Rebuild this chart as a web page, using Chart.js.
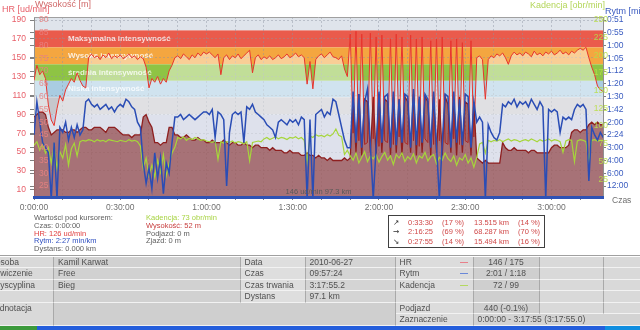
<!DOCTYPE html>
<html lang="pl">
<head>
<meta charset="utf-8">
<title>Trening 2010-06-27</title>
<script src="https://cdn.jsdelivr.net/npm/chart.js@4.4.1/dist/chart.umd.min.js"></script>
<style>
  body { margin: 0; background: #fff; font-family: "Liberation Sans", Arial, sans-serif; }
  #ekran { position: relative; width: 640px; height: 330px; overflow: hidden; }
  #wykres { position: absolute; left: 0; top: 0; }
  .t { position: absolute; white-space: nowrap; line-height: 1; }
  .info { position: absolute; font-size: 7.5px; line-height: 7.8px; color: #606060; white-space: nowrap; }
  #przedzialy { position: absolute; left: 388px; top: 215px; width: 155px; height: 31px;
    border: 1px solid #404040; background: #fff; font-size: 7.5px; color: #d04848; }
  #przedzialy div { position: absolute; white-space: nowrap; line-height: 9px; }
  #tabela { position: absolute; left: 0; top: 255px; width: 640px; height: 71px; border-top: 1px solid #a0a0a0; }
  .k { position: absolute; box-sizing: border-box; border-right: 1px solid #a9a9a9; border-bottom: 1px solid #f2f2f2;
    font-size: 8.5px; color: #505050; line-height: 10px; padding-left: 4px; white-space: nowrap; overflow: hidden; }
  .znak { position: absolute; top: 5px; width: 8px; height: 1px; }
  #pasek { position: absolute; left: 0; top: 326px; width: 640px; height: 4px; background: #245edc; }
</style>
</head>
<body>
<div id="ekran">
  <canvas id="wykres" width="640" height="215"></canvas>

  <span class="t" style="left:2px;top:5px;font-size:9px;color:#e8606a">HR [ud/min]</span>
  <span class="t" style="left:35px;top:0px;font-size:9px;color:#d06a6a">Wysokość [m]</span>
  <span class="t" style="left:530px;top:1px;font-size:9px;color:#b4d65a">Kadencja [obr/min]</span>
  <span class="t" style="left:605px;top:7px;font-size:9px;color:#3a5ac0">Rytm [min/km]</span>
  <span class="t" style="left:612px;top:196px;font-size:8.5px;color:#707070">Czas</span>

  <div class="info" style="left:34px;top:214px">
    Wartości pod kursorem:<br>
    Czas: 0:00:00<br>
    <span style="color:#e04040">HR: 126 ud/min</span><br>
    <span style="color:#3050c0">Rytm: 2:27 min/km</span><br>
    Dystans: 0.000 km
  </div>
  <div class="info" style="left:146px;top:214px">
    <span style="color:#a8d444">Kadencja: 73 obr/min</span><br>
    <span style="color:#c84040">Wysokość: 52 m</span><br>
    Podjazd: 0 m<br>
    Zjazd: 0 m
  </div>

  <div id="przedzialy"></div>
  <div id="tabela"></div>
  <div id="pasek">
    <div style="position:absolute;left:0;top:0;width:37px;height:4px;background:#3c9a3c"></div>
    <div style="position:absolute;left:605px;top:0;width:35px;height:4px;background:#0f8ee0"></div>
  </div>
</div>

<script>
// próbki co minutę, od 0:00 do 3:18
const tetno = [
  126, 142, 132, 136, 128, 100, 84, 78, 96, 110,
  104, 116, 122, 128, 124, 134, 126, 120, 118, 150,
  154, 150, 152, 148, 153, 150, 155, 149, 152, 150,
  153, 149, 151, 154, 150, 152, 148, 151, 149, 140,
  118, 128, 124, 130, 122, 128, 124, 136, 142, 150,
  152, 149, 154, 151, 148, 153, 150, 155, 152, 156,
  154, 156, 153, 150, 154, 132, 150, 153, 148, 152,
  150, 154, 149, 152, 155, 158, 134, 150, 153, 148,
  151, 149, 152, 148, 150, 153, 149, 151, 154, 150,
  152, 155, 151, 153, 150, 122, 146, 117, 148, 152,
  154, 150, 153, 156, 151, 150, 148, 152, 138, 130,
  175, 70, 178, 62, 175, 58, 60, 176, 64, 172,
  56, 174, 62, 60, 170, 58, 175, 66, 172, 60,
  58, 174, 62, 170, 56, 172, 64, 60, 168, 58,
  170, 62, 172, 60, 58, 168, 64, 170, 58, 166,
  62, 60, 168, 66, 150, 152, 148, 106, 148, 152,
  150, 154, 152, 155, 150, 143, 152, 156, 153, 155,
  152, 156, 154, 151, 157, 153, 155, 152, 156, 154,
  157, 153, 155, 158, 154, 156, 153, 157, 155, 158,
  160, 158, 161, 150, 140, 132, 120, 116, 114
];

const wysokosc = [
  52, 53, 54, 54, 53, 48, 45, 46, 47, 47,
  47, 46, 46, 47, 47, 46, 47, 48, 48, 47,
  47, 48, 48, 48, 47, 46, 48, 48, 48, 47,
  46, 45, 45, 45, 44, 45, 45, 45, 52, 53,
  50, 48, 42, 42, 41, 42, 42, 48, 48, 45,
  45, 44, 44, 45, 44, 43, 43, 44, 43, 43,
  42, 42, 43, 42, 42, 42, 43, 42, 41, 42,
  42, 41, 41, 42, 41, 41, 40, 41, 41, 40,
  40, 40, 39, 40, 39, 39, 39, 38, 38, 39,
  38, 38, 38, 37, 37, 38, 37, 37, 36, 37,
  36, 36, 35, 36, 35, 35, 35, 35, 36, 35,
  36, 60, 38, 61, 37, 59, 58, 38, 60, 37,
  61, 38, 59, 58, 37, 60, 38, 59, 37, 60,
  58, 38, 61, 37, 59, 38, 60, 58, 37, 60,
  38, 59, 37, 60, 57, 38, 59, 37, 60, 38,
  58, 57, 37, 58, 36, 35, 34, 35, 34, 34,
  34, 34, 34, 42, 40, 39, 39, 40, 39, 39,
  39, 39, 38, 39, 39, 38, 38, 38, 38, 38,
  40, 41, 41, 40, 40, 40, 41, 46, 47, 47,
  46, 47, 47, 49, 50, 49, 50, 49, 49
];

const kadencja = [
  73, 78, 66, 75, 62, 70, 48, 72, 40, 64,
  55, 74, 45, 68, 76, 58, 78, 80, 79, 81,
  80, 78, 81, 79, 80, 78, 81, 80, 79, 78,
  80, 79, 78, 81, 79, 80, 78, 72, 40, 55,
  30, 45, 28, 52, 35, 60, 30, 48, 62, 70,
  84, 82, 85, 80, 83, 81, 84, 82, 80, 81,
  79, 78, 77, 79, 53, 78, 76, 78, 77, 79,
  76, 78, 77, 75, 78, 51, 77, 78, 79, 78,
  82, 84, 81, 83, 85, 82, 84, 83, 81, 84,
  83, 85, 82, 84, 80, 49, 86, 84, 88, 86,
  87, 85, 88, 86, 89, 96, 87, 85, 60, 66,
  58, 52, 62, 48, 56, 64, 50, 58, 54, 60,
  49, 57, 63, 52, 58, 46, 60, 55, 62, 50,
  57, 53, 61, 48, 58, 55, 63, 51, 57, 60,
  47, 56, 52, 62, 54, 50, 58, 45, 55, 52,
  60, 48, 55, 42, 56, 75, 77, 62, 80, 78,
  80, 79, 81, 78, 80, 82, 79, 81, 80, 78,
  80, 81, 79, 82, 80, 78, 81, 79, 80, 82,
  79, 81, 80, 78, 63, 79, 81, 80, 50, 79,
  81, 80, 78, 49, 80, 81, 79, 80, 80
];

// prędkość w km/h, oś opisana jako rytm min/km
const predkosc = [
  25, 38, 30, 22, 20, 18, 0, 22, 0, 28,
  26, 30, 23, 28, 24, 29, 25, 27, 38, 39,
  37, 36, 37, 35, 36, 37, 35, 36, 34, 36,
  37, 36, 39, 38, 36, 35, 30, 28, 14, 6,
  12, 4, 18, 8, 16, 2, 14, 10, 22, 32,
  32, 33, 31, 32, 33, 32, 31, 32, 33, 34,
  34, 33, 35, 24, 34, 33, 31, 5, 26, 33,
  34, 33, 34, 22, 36, 35, 37, 34, 33, 32,
  31, 29, 28, 27, 24, 30, 31, 30, 29, 31,
  30, 31, 29, 32, 31, 0, 31, 0, 33, 34,
  35, 32, 34, 33, 39, 38, 33, 28, 23, 20,
  20, 42, 22, 41, 20, 38, 43, 21, 0, 20,
  42, 22, 40, 41, 20, 42, 21, 39, 22, 41,
  40, 20, 43, 21, 40, 22, 41, 39, 20, 42,
  21, 0, 22, 41, 40, 20, 42, 22, 39, 21,
  41, 40, 20, 38, 30, 32, 30, 0, 29, 26,
  24, 23, 26, 37, 36, 38, 37, 39, 36, 38,
  37, 38, 36, 39, 37, 35, 38, 36, 0, 35,
  34, 35, 34, 26, 32, 31, 32, 31, 35, 37,
  36, 37, 35, 7, 28, 25, 23, 26, 24
];

const czasTrwania = 197.92; // 3:17:55
const podzialkaCzasu = [0, 10, 20, 30, 40, 50, 60, 70, 80, 90, 100, 110, 120, 130, 140, 150, 160, 170, 180, 190];
const podzialkaHR = [10, 30, 50, 70, 90, 110, 130, 150, 170, 190];
const podzialkaWys = [25, 30, 35, 40, 45, 50, 55, 60, 65, 70, 75, 80, 85, 90];
const podzialkaPred = [5, 10, 15, 20, 25, 30, 35, 40, 45, 50, 55, 60, 65, 70];
const podzialkaKad = [25, 50, 75, 100, 125, 150, 175, 200, 225, 250];

// strefy tętna od góry
const progiStref = [193.2, 179, 161, 143, 125.5, 108, 90, 2.3];
const nazwyStref = ['Maksymalna intensywność', 'Wysoka intensywność', 'średnia intensywność', 'Niska intensywność'];
const kolorStref = ['#dfe4eb', '#ea5b4c', '#f4a640', '#8ec444', '#a9cce2', '#c6c7cc', '#c3c8dd'];

const punkty = arr => arr.map((v, i) => ({ x: i, y: v }));
const naTicki = wartosci => scale => { scale.ticks = wartosci.map(v => ({ value: v })); };
const dwieCyfry = n => String(n).padStart(2, '0');

const strefy = {
  id: 'strefy',
  beforeDraw(chart) {
    const { ctx, chartArea: a, scales } = chart;
    const y = scales.yHR;
    ctx.save();
    for (let i = 0; i < kolorStref.length; i++) {
      const y1 = y.getPixelForValue(progiStref[i]);
      const y2 = y.getPixelForValue(progiStref[i + 1]);
      ctx.fillStyle = kolorStref[i];
      ctx.fillRect(a.left, y1, a.right - a.left, y2 - y1);
    }
    ctx.font = 'bold 8px "Liberation Sans", Arial, sans-serif';
    ctx.fillStyle = 'rgba(255,255,255,0.8)';
    ctx.textBaseline = 'middle';
    nazwyStref.forEach((n, i) => {
      const sr = (progiStref[i + 1] + progiStref[i + 2]) / 2;
      ctx.fillText(n, a.left + 34, y.getPixelForValue(sr));
    });
    ctx.restore();
  },
  afterDatasetsDraw(chart) {
    const { ctx, chartArea: a } = chart;
    ctx.save();
    ctx.strokeStyle = '#a0a0a0';
    ctx.lineWidth = 1;
    ctx.beginPath();
    ctx.moveTo(a.left, a.top + 0.5);
    ctx.lineTo(a.right, a.top + 0.5);
    ctx.stroke();
    ctx.font = '7.5px "Liberation Sans", Arial, sans-serif';
    ctx.fillStyle = '#5a5a5a';
    ctx.textAlign = 'center';
    ctx.textBaseline = 'middle';
    ctx.fillText('146 ud/min 97.3 km', (a.left + a.right) / 2, a.bottom - 5);
    ctx.restore();
  }
};

const siatka = { color: 'rgba(140,146,160,0.45)', tickColor: '#808080', tickBorderDash: [] };
const czcionka = { family: '"Liberation Sans", Arial, sans-serif', size: 8.5 };

new Chart(document.getElementById('wykres'), {
  type: 'line',
  data: {
    datasets: [
      { label: 'Rytm', data: punkty(predkosc), yAxisID: 'yPred', order: 1,
        borderColor: '#2a4db5', borderWidth: 1.5, pointRadius: 0, fill: false },
      { label: 'Kadencja', data: punkty(kadencja), yAxisID: 'yKad', order: 2,
        borderColor: '#a6d63a', borderWidth: 1.2, pointRadius: 0, fill: false },
      { label: 'Wysokość', data: punkty(wysokosc), yAxisID: 'yWys', order: 3,
        borderColor: '#8e1f1f', borderWidth: 1.3, pointRadius: 0,
        backgroundColor: 'rgba(125,30,30,0.57)', fill: 'start' },
      { label: 'HR', data: punkty(tetno), yAxisID: 'yHR', order: 4,
        borderColor: '#e8352d', borderWidth: 1, pointRadius: 0,
        backgroundColor: 'rgba(255,255,255,0.45)', fill: 'start' }
    ]
  },
  options: {
    responsive: false,
    animation: false,
    layout: { padding: { top: 17, left: 0, right: 0, bottom: 0 } },
    plugins: { legend: { display: false }, tooltip: { enabled: false } },
    elements: { line: { tension: 0 } },
    scales: {
      x: {
        type: 'linear', position: 'bottom', min: 0, max: czasTrwania,
        afterBuildTicks: naTicki(podzialkaCzasu),
        afterFit: s => { s.height = 18; },
        ticks: {
          autoSkip: false, maxRotation: 0, color: '#707070', font: czcionka, padding: 3,
          callback: v => v % 30 === 0 ? Math.floor(v / 60) + ':' + dwieCyfry(v % 60) + ':00' : ''
        },
        grid: { ...siatka, tickLength: 3 },
        border: { color: '#2f52b5', width: 3, dash: [2, 2], z: 1 }
      },
      yHR: {
        position: 'left', weight: 1, min: 2.3, max: 193.2,
        afterBuildTicks: naTicki(podzialkaHR),
        afterFit: s => { s.width = 34; },
        ticks: { color: '#e8606a', font: czcionka, padding: 4 },
        grid: { ...siatka, tickLength: 4 },
        border: { color: '#909090', dash: [2, 2] }
      },
      yWys: {
        position: 'left', weight: 0, min: 20.7, max: 91.2,
        afterBuildTicks: naTicki(podzialkaWys),
        afterFit: s => { s.width = 0; },
        ticks: { mirror: true, z: 1, color: 'rgba(232,130,130,0.9)', font: czcionka, padding: 5 },
        grid: { drawOnChartArea: false, tickLength: 4, tickColor: '#808080' },
        border: { color: '#909090' }
      },
      yKad: {
        position: 'right', weight: 0, min: 0, max: 254,
        afterBuildTicks: naTicki(podzialkaKad),
        afterFit: s => { s.width = 0; },
        ticks: { mirror: true, z: 1, color: 'rgba(184,222,70,0.9)', font: czcionka, padding: 5 },
        grid: { drawOnChartArea: false, drawTicks: false },
        border: { color: '#909090' }
      },
      yPred: {
        position: 'right', weight: 1, min: 0.7, max: 71.2,
        afterBuildTicks: naTicki(podzialkaPred),
        afterFit: s => { s.width = 37; },
        ticks: {
          color: '#3a5cc0', font: czcionka, padding: 1,
          callback: v => { const s = Math.floor(3600 / v); return Math.floor(s / 60) + ':' + dwieCyfry(s % 60); }
        },
        grid: { drawOnChartArea: false, tickLength: 3, tickColor: '#808080' },
        border: { color: '#909090' }
      }
    }
  },
  plugins: [strefy]
});

// odcinki: podjazd, płasko, zjazd
const odcinki = [
  ['↗', '0:33:30', '(17 %)', '13.515 km', '(14 %)'],
  ['→', '2:16:25', '(69 %)', '68.287 km', '(70 %)'],
  ['↘', '0:27:55', '(14 %)', '15.494 km', '(16 %)']
];
const kolOdc = [4, 19, 53, 85, 129];
const ramka = document.getElementById('przedzialy');
odcinki.forEach((w, r) => {
  w.forEach((txt, c) => {
    const d = document.createElement('div');
    d.textContent = txt;
    d.style.left = kolOdc[c] + 'px';
    d.style.top = (2 + r * 9.4) + 'px';
    if (c === 0) { d.style.color = '#303030'; d.style.fontFamily = '"DejaVu Sans", sans-serif'; }
    ramka.appendChild(d);
  });
});

// tabela z opisem treningu
const tabela = document.getElementById('tabela');
const wiersze = [0.5, 12, 23.5, 35, 46.5, 58];
const kolumny = [0, 54, 240.5, 305.5, 395.5, 473.5, 539.5, 603.5, 641];
const tlo = ['#d9d9d9', '#d1d1d1', '#dedede', '#d4d4d4', '#dcdcdc', '#cfcfcf', '#d9d9d9', '#d9d9d9'];
function komorka(c1, c2, r1, r2, tekst, opcje = {}) {
  const d = document.createElement('div');
  d.className = 'k';
  d.style.left = kolumny[c1] + 'px';
  d.style.width = (kolumny[c2] - kolumny[c1]) + 'px';
  d.style.top = wiersze[r1] + 'px';
  const dol = r2 + 1 < wiersze.length ? wiersze[r2 + 1] : 70;
  d.style.height = (dol - wiersze[r1]) + 'px';
  d.style.lineHeight = (dol - wiersze[r1] - 1) + 'px';
  d.style.background = opcje.tlo || tlo[c1];
  if (opcje.srodek) { d.style.textAlign = 'center'; d.style.paddingLeft = '0'; }
  if (opcje.wciecie) d.style.textIndent = opcje.wciecie + 'px';
  if (opcje.linia) d.style.lineHeight = opcje.linia + 'px';
  d.textContent = tekst;
  if (opcje.znak) {
    const z = document.createElement('div');
    z.className = 'znak';
    z.style.left = (kolumny[c2] - kolumny[c1] - 14) + 'px';
    z.style.background = opcje.znak;
    d.appendChild(z);
  }
  tabela.appendChild(d);
}
const etykietyA = ['Osoba', 'Ćwiczenie', 'Dyscyplina', ''];
const wartosciB = ['Kamil Karwat', 'Free', 'Bieg', ''];
const etykietyC = ['Data', 'Czas', 'Czas trwania', 'Dystans'];
const wartosciD = ['2010-06-27', '09:57:24', '3:17:55.2', '97.1 km'];
const etykietyE = ['HR', 'Rytm', 'Kadencja', '', 'Podjazd'];
const wartosciF = ['146 / 175', '2:01 / 1:18', '72 / 99', '', '440 (-0.1%)'];
const znaki = ['#e8808a', '#6a88d8', '#b4d860', null, null];
for (let r = 0; r < 4; r++) {
  komorka(0, 1, r, r, etykietyA[r], { wciecie: -10 });
  komorka(1, 2, r, r, wartosciB[r]);
  komorka(2, 3, r, r, etykietyC[r]);
  komorka(3, 4, r, r, wartosciD[r]);
}
for (let r = 0; r < 5; r++) {
  komorka(4, 5, r, r, etykietyE[r], znaki[r] ? { znak: znaki[r] } : {});
  komorka(5, 6, r, r, wartosciF[r], { srodek: true });
  komorka(6, 7, r, r, '');
  komorka(7, 8, r, r, '');
}
komorka(0, 1, 4, 5, 'Adnotacja', { wciecie: -10, linia: 11 });
komorka(1, 4, 4, 5, '', { tlo: '#cfcfcf' });
komorka(4, 5, 5, 5, 'Zaznaczenie');
komorka(5, 8, 5, 5, '0:00:00 - 3:17:55 (3:17:55.0)', { tlo: '#d3d3d3' });
</script>
</body>
</html>
